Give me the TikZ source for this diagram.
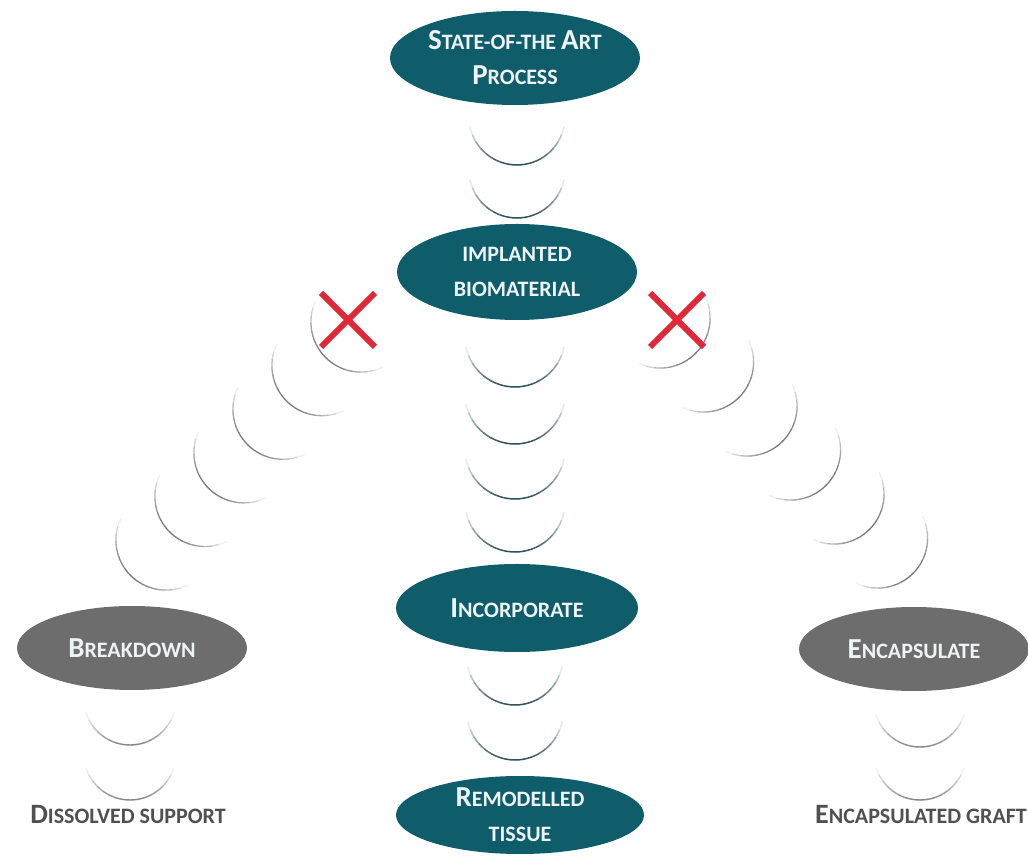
\documentclass[tikz,border=0pt]{standalone}
\usepackage{fontspec}
\setmainfont{Carlito}
\usetikzlibrary{shapes.geometric}
\definecolor{tealell}{HTML}{0F5D6A}
\definecolor{grayell}{HTML}{6D6D6D}
\definecolor{arcdark}{HTML}{2B5058}
\definecolor{arcgray}{HTML}{7A7A7A}
\definecolor{arclight}{HTML}{858585}
\definecolor{xred}{HTML}{E02838}
\definecolor{txtwhite}{HTML}{EEF4F5}
\definecolor{labelgray}{HTML}{505050}
\newcommand\BC[1]{{\fontsize{29}{35}\selectfont #1}}
\newcommand\fadearc[7]{% cx, cy, mid angle, radius, colour, half span, width
  \foreach \i in {0,...,15}{%
    \pgfmathsetmacro\aa{#3-#6+(#6/8)*\i}%
    \pgfmathsetmacro\pp{int(100*(1-((\i-7.5)/8)^2))}%
    \draw[line width=#7,#5!\pp!white] ([shift={(\aa:#4)}]#1,#2) arc[start angle=\aa, delta angle={#6/8+0.6}, radius=#4];
  }}
\tikzset{
  ovalbox/.style={ellipse, fill=tealell, text=txtwhite, align=center, inner sep=0pt,
    font=\bfseries\fontsize{22}{35}\selectfont},
  grayoval/.style={ovalbox, fill=grayell},
  endlabel/.style={text=labelgray, font=\bfseries\fontsize{22}{26}\selectfont, inner sep=0pt},
  crossline/.style={xred, line width=6pt}
}
\begin{document}
\begin{tikzpicture}[x=1pt,y=1pt]
\useasboundingbox[fill=white] (0,0) rectangle (1028,857);

% ellipses
\node[ovalbox, minimum width=250pt, minimum height=94pt] (sota) at (515,799)
  {\BC{S}TATE-OF-THE \BC{A}RT\\\BC{P}ROCESS};
\node[ovalbox, minimum width=240pt, minimum height=96pt] (impl) at (517,585)
  {IMPLANTED\\BIOMATERIAL};
\node[ovalbox, minimum width=242pt, minimum height=88pt] (inc) at (517,249)
  {\BC{I}NCORPORATE};
\node[ovalbox, minimum width=248pt, minimum height=78pt] (rem) at (520,42)
  {\BC{R}EMODELLED\\TISSUE};
\node[grayoval, minimum width=230pt, minimum height=84pt] (brk) at (132,209)
  {\BC{B}REAKDOWN};
\node[grayoval, minimum width=230pt, minimum height=84pt] (enc) at (914,208)
  {\BC{E}NCAPSULATE};

% end labels
\node[endlabel] (diss) at (128,42) {{\fontsize{28}{26}\selectfont D}ISSOLVED SUPPORT};
\node[endlabel] (graft) at (921,42) {{\fontsize{28}{26}\selectfont E}NCAPSULATED GRAFT};

% central arcs
\fadearc{517}{740}{270}{48}{arcdark}{78}{1.5pt}
\fadearc{517}{687}{270}{48}{arcdark}{78}{1.5pt}
\foreach \cy in {520,463,408,355}{\fadearc{515}{\cy}{270}{50}{arcdark}{78}{1.5pt}}
\fadearc{515}{200}{270}{48}{arcdark}{78}{1.5pt}
\fadearc{515}{145}{270}{48}{arcdark}{78}{1.5pt}

% side lower arcs
\fadearc{130}{158}{270}{46}{arclight}{72}{1.4pt}
\fadearc{130}{103}{270}{46}{arclight}{72}{1.4pt}
\fadearc{920}{156}{270}{46}{arclight}{72}{1.4pt}
\fadearc{920}{103}{270}{46}{arclight}{72}{1.4pt}

% diagonal arcs
\foreach \k in {0,...,5}{
  \pgfmathsetmacro\lx{360.9-39*\k}\pgfmathsetmacro\ly{534.9-43.6*\k}
  \pgfmathsetmacro\rx{660.1+43.5*\k}\pgfmathsetmacro\ry{538.9-44*\k}
  \fadearc{\lx}{\ly}{225}{50}{arcgray}{70}{1.3pt}
  \fadearc{\rx}{\ry}{315}{50}{arcgray}{70}{1.3pt}
}

% red crosses
\coordinate (xl) at (348,537);
\coordinate (xr) at (677,537);
\draw[crossline] ([shift={(-27,27)}]xl) -- ([shift={(27,-27)}]xl);
\draw[crossline] ([shift={(-27,-27)}]xl) -- ([shift={(27,27)}]xl);
\draw[crossline] ([shift={(-27,27)}]xr) -- ([shift={(27,-27)}]xr);
\draw[crossline] ([shift={(-27,-27)}]xr) -- ([shift={(27,27)}]xr);
\end{tikzpicture}
\end{document}
